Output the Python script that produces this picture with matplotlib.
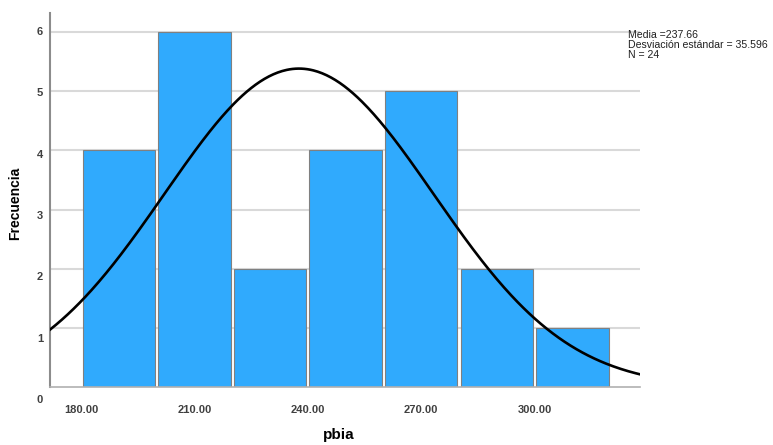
import numpy as np
import matplotlib
matplotlib.use("Agg")
import matplotlib.pyplot as plt
import matplotlib.transforms as mtransforms

plt.rcParams["font.family"] = ["Liberation Sans", "DejaVu Sans"]

# histogram of pbia (SPSS style)
bin_edges = [180, 200, 220, 240, 260, 280, 300, 320]
counts = [4, 6, 2, 4, 5, 2, 1]
mean = 237.66
std = 35.596
n = 24
x_ticks = [180, 210, 240, 270, 300]
x_ticklabels = ["180.00", "210.00", "240.00", "270.00", "300.00"]
y_ticks = [0, 1, 2, 3, 4, 5, 6]

_BLUE = "#30aafd"
_EDGE = "#808080"
_GRID = "#d9d9d9"
_TXT = "#404040"

fig = plt.figure(figsize=(7.73, 4.45), dpi=100)
ax = fig.add_axes([0.0647, 0.130, 0.7633, 0.841])

edges = np.array(bin_edges, dtype=float)
width = np.diff(edges)
ax.bar(edges[:-1] + width / 2, counts, width=width * 0.96,
       color=_BLUE, edgecolor=_EDGE, linewidth=0.8, zorder=2)

# normal curve scaled to the histogram
xs = np.linspace(171.8, 327.9, 400)
pdf = np.exp(-0.5 * ((xs - mean) / std) ** 2) / (std * np.sqrt(2 * np.pi))
ax.plot(xs, pdf * n * width[0], color="black", lw=1.9, zorder=3)

ax.set_xlim(171.8, 327.9)
ax.set_ylim(0, 6.32)

for v in y_ticks[1:]:
    ax.axhline(v, color=_GRID, lw=1.5, zorder=1)

for s in ("top", "right"):
    ax.spines[s].set_visible(False)
ax.spines["left"].set_color("#8c8c8c")
ax.spines["left"].set_linewidth(1.5)
ax.spines["bottom"].set_color("#b0b0b0")
ax.spines["bottom"].set_linewidth(1.2)

ax.set_yticks([])
ax.set_xticks(x_ticks)
ax.set_xticklabels(x_ticklabels, fontsize=8, color=_TXT, fontweight="bold")
ax.tick_params(axis="x", length=0, pad=13)

# SPSS draws the frequency labels slightly off the gridlines
trans = mtransforms.blended_transform_factory(ax.transAxes, ax.transData)
for v in y_ticks:
    ax.text(-0.012, -0.22 + v * 1.037, str(v), transform=trans, ha="right",
            va="center", fontsize=8, color=_TXT, fontweight="bold", clip_on=False)

ax.set_ylabel("Frecuencia", fontsize=10, fontweight="bold")
ax.yaxis.set_label_coords(-0.047, 0.49)
ax.set_xlabel("pbia", fontsize=11, fontweight="bold")
ax.xaxis.set_label_coords(0.49, -0.108)

fig.text(0.813, 0.899,
         f"Media ={mean:.2f}\nDesviación estándar = {std:.3f}\nN = {n}",
         fontsize=7.6, color="#202020", ha="left", va="center", linespacing=1.02)

fig.savefig("out.png", dpi=100, facecolor="white")
plt.close(fig)
